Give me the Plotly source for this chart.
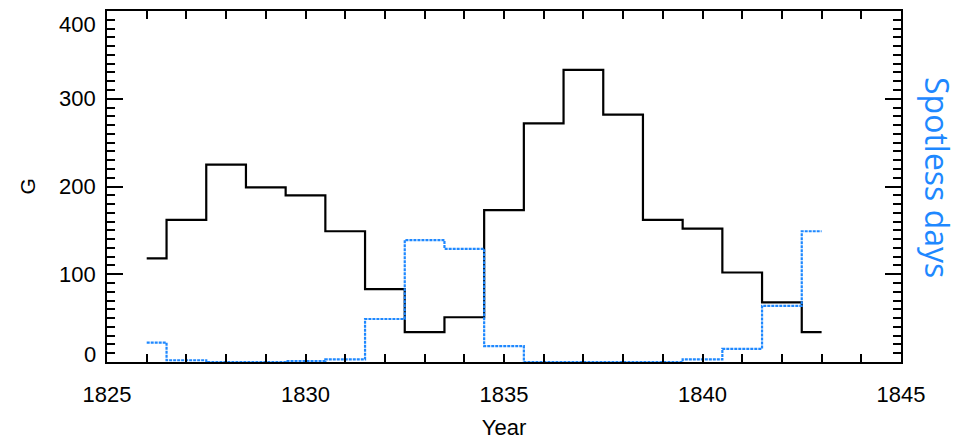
import plotly.graph_objects as go

# ---- data ----
years = list(range(1826, 1844))
g_values = [118, 162, 225, 199, 190, 149, 83, 34, 51, 173, 272, 333, 282, 162, 152, 102, 68, 34]
spotless_days = [22, 2, 0, 0, 1, 3, 49, 139, 129, 18, 0, 0, 0, 0, 3, 15, 64, 149]

x_ticks = [1825, 1830, 1835, 1840, 1845]
y_ticks = [0, 100, 200, 300, 400]

BLUE = "#1e88ff"
FONT = "Liberation Sans, Arial, sans-serif"

fig = go.Figure()
fig.add_trace(go.Scatter(
    x=years, y=g_values, mode="lines", line_shape="hvh",
    line=dict(color="black", width=2.2), name="G", showlegend=False,
))
fig.add_trace(go.Scatter(
    x=years, y=spotless_days, mode="lines", line_shape="hvh",
    line=dict(color=BLUE, width=2.2, dash="3px,1px"), name="Spotless days",
    showlegend=False, yaxis="y2",
))

# y tick labels (end labels nudged inward as in the original IDL-style plot)
shifts = {0: 8, 400: -13}
annotations = []
for v in y_ticks:
    annotations.append(dict(
        x=0, xref="paper", y=v, yref="y", text=str(v), showarrow=False,
        xanchor="right", yanchor="middle", xshift=-9, yshift=shifts.get(v, 0),
        font=dict(family=FONT, size=22, color="black"),
    ))
annotations.append(dict(
    x=0, xref="paper", y=0.5, yref="paper", text="G", showarrow=False,
    xanchor="center", yanchor="middle", xshift=-80, textangle=-90,
    font=dict(family=FONT, size=21, color="black"),
))
annotations.append(dict(
    x=1, xref="paper", y=0.527, yref="paper", text="Spotless days", showarrow=False,
    xanchor="center", yanchor="middle", xshift=37, textangle=90,
    font=dict(family="Open Sans, sans-serif", size=32, color=BLUE),
))

axis_common = dict(
    showgrid=False, zeroline=False, showline=True, linecolor="black", linewidth=2,
    mirror="allticks", ticks="inside", tickcolor="black", tickwidth=2,
)

fig.update_layout(
    width=963, height=446,
    margin=dict(l=107, r=62, t=9, b=84),
    paper_bgcolor="white", plot_bgcolor="white",
    xaxis=dict(
        range=[1825, 1845], tickvals=x_ticks, ticklen=8,
        minor=dict(dtick=1, ticklen=4, tickwidth=2, ticks="inside", tickcolor="black"),
        tickfont=dict(family=FONT, size=22, color="black"),
        ticklabelstandoff=12,
        title=dict(text="Year", font=dict(family=FONT, size=22, color="black"), standoff=13),
        **axis_common,
    ),
    yaxis=dict(
        range=[0, 400], tickvals=y_ticks, ticklen=16, showticklabels=False,
        minor=dict(dtick=10, ticklen=8, tickwidth=2, ticks="inside", tickcolor="black"),
        **axis_common,
    ),
    yaxis2=dict(
        range=[0, 400], overlaying="y", side="right", showticklabels=False,
        showgrid=False, zeroline=False, showline=False, ticks="",
    ),
    annotations=annotations,
)

fig.write_html("out.html")
